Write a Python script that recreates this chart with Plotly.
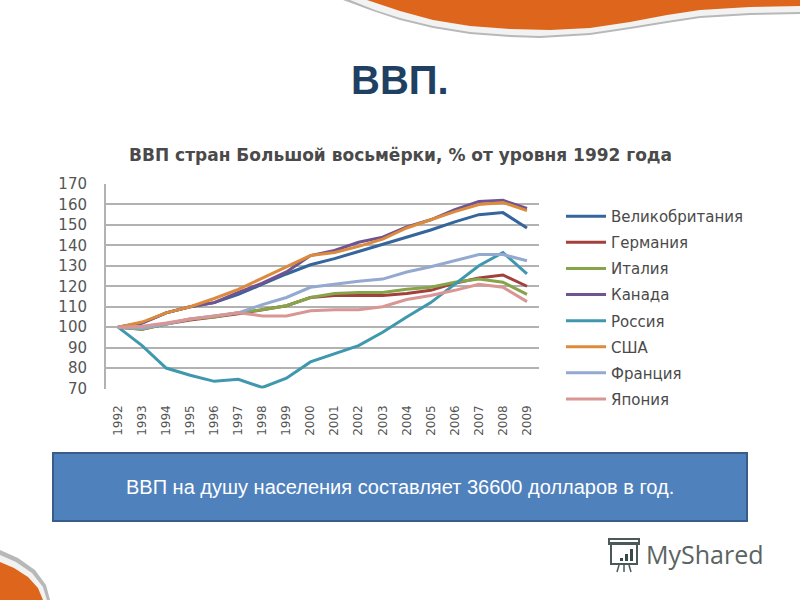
import plotly.graph_objects as go

W, H = 800, 600
years = [str(y) for y in range(1992, 2010)]
uk = [100,102,107,110,112,116,121,126,130.5,133.5,137,140.5,144,147.5,151.5,155,156,148.5]
germany = [100,99,101.5,103.5,105,106.5,108.5,110.5,114.5,115.5,115.5,115.5,116.5,118,121.5,124,125.5,120]
italy = [100,99,101.5,104,105,107,108.5,110.5,114.5,116.5,117,117,118.5,119.5,122,123.5,122,116]
canada = [100,102,107,110,112,117,121.5,127,135,137.5,141.5,144,149,152.5,157.5,161.5,162,158]
russia = [100,91,80,76.5,73.5,74.5,70.5,75,83,87,91,97.5,105,112,121,130,136.5,126]
usa = [100,102.5,107,110,114,118.5,124,129.5,135,136.5,139.5,143,148.5,152.5,156.5,160,161,157]
france = [100,99.5,101.5,104,105.5,107,111,114.5,119.5,121,122.5,123.5,127,129.5,132.5,135.5,135.5,132.5]
japan = [100,100.5,102,104,105.5,107,105.5,105.5,108,108.5,108.5,110,113.5,115.5,118,121,119.5,112.5]
series = [("Великобритания", uk, "#34659b"), ("Германия", germany, "#a2403c"),
          ("Италия", italy, "#86a44a"), ("Канада", canada, "#6f5392"),
          ("Россия", russia, "#3f98ad"), ("США", usa, "#dc8a3c"),
          ("Франция", france, "#93a9d0"), ("Япония", japan, "#d99694")]
y_ticks = list(range(70, 180, 10))

fig = go.Figure()
for name, vals, col in series:
    fig.add_trace(go.Scatter(x=years, y=vals, name=name, mode="lines", legendgroup=name,
                             line=dict(color=col, width=3)))

def px(x): return x / W
def py(y): return 1 - y / H

def path(pts):
    return "M" + " L".join(f"{px(x):.4f},{py(y):.4f}" for x, y in pts) + " Z"

def deco(pts, color):
    return dict(type="path", xref="paper", yref="paper", path=path(pts), fillcolor=color,
                line=dict(width=0), layer="below")

def rect(x0, y0, x1, y1, fill="rgba(0,0,0,0)", line=None):
    return dict(type="rect", xref="paper", yref="paper", x0=px(x0), x1=px(x1), y0=py(y1), y1=py(y0),
                fillcolor=fill, line=line or dict(width=0))

def seg(x0, y0, x1, y1):
    return dict(type="line", xref="paper", yref="paper", x0=px(x0), x1=px(x1), y0=py(y0), y1=py(y1),
                line=dict(color="#4a5a58", width=1.5))

top_orange = [(367,0),(400,11),(433,20),(470,26),(510,29),(550,30),(590,28),(630,22),(667,15),(700,10),(750,7),(800,6),(800,0)]
top_white = [(350,0),(375,10),(400,18),(433,26),(470,32),(510,35),(540,36),(590,33),(630,27),(667,21),(700,16),(750,13),(800,12),(800,0)]
top_band = [(343,0),(370,10),(400,20),(433,28),(470,34),(510,37),(540,38),(590,35),(630,29),(667,23),(700,18),(750,15),(800,14),(800,0)]
bl_orange = [(0,562),(14,568),(28,577),(38,588),(43,600),(0,600)]
bl_white = [(0,555),(16,562),(32,573),(43,587),(47,600),(0,600)]
bl_band = [(0,550),(18,558),(35,570),(46,585),(50,600),(0,600)]
line_col = dict(color="#4a5a58", width=2)
shapes = [
    deco(top_band, "#b8b8b8"), deco(top_white, "#f2f2f2"), deco(top_orange, "#dd661c"),
    deco(bl_band, "#b8b8b8"), deco(bl_white, "#f2f2f2"), deco(bl_orange, "#dd661c"),
    rect(53, 453, 747, 521, "#4f81bd", dict(color="#385d8a", width=2)),
    rect(611, 543, 637, 564, line=line_col),
    rect(609, 539, 639, 544, line=line_col),
    rect(630, 549, 633, 561, "#3a4a48"),
    rect(625, 554, 628, 561, "#3a4a48"),
    rect(620, 558, 623, 561, "#3a4a48"),
    seg(619, 565, 617, 572), seg(624, 565, 624, 572), seg(629, 565, 631, 572),
]

def note(text, x, y, family, size, color):
    return dict(text=text, x=px(x), y=py(y), xref="paper", yref="paper", showarrow=False,
                xanchor="center", yanchor="middle", font=dict(family=family, size=size, color=color))

annotations = [
    note("<b>ВВП.</b>", 400, 80, "Liberation Sans", 40, "#1f3f63"),
    note("<b>ВВП стран Большой восьмёрки, % от уровня 1992 года</b>", 400, 155, "DejaVu Sans", 17, "#4a4a4a"),
    note("ВВП на душу населения составляет 36600 долларов в год.", 400, 487, "Liberation Sans", 20, "#ffffff"),
    note("MyShared", 705, 554, "Open Sans", 25, "#5a6462"),
]

fig.update_layout(
    width=W, height=H, autosize=False, margin=dict(l=0, r=0, t=0, b=0, autoexpand=False),
    paper_bgcolor="#ffffff", plot_bgcolor="rgba(0,0,0,0)",
    shapes=shapes, annotations=annotations,
    xaxis=dict(domain=[px(106), px(539)], type="category", categoryorder="array", categoryarray=years,
               range=[-0.5, 17.5], showgrid=False, showline=False, ticks="outside", ticklen=11,
               tickcolor="rgba(0,0,0,0)", tickangle=-90,
               tickfont=dict(family="DejaVu Sans", size=12, color="#555555"), anchor="y"),
    yaxis=dict(domain=[py(388.5), py(184)], range=[70, 170], tickvals=y_ticks,
               gridcolor="#b2b2b2", gridwidth=2, zeroline=False, showline=True, linecolor="#b2b2b2", linewidth=2,
               ticks="outside", ticklen=14, tickcolor="rgba(0,0,0,0)",
               tickfont=dict(family="DejaVu Sans", size=15, color="#555555"), anchor="x"),
    legend=dict(x=px(561), y=py(200), xanchor="left", yanchor="top", bgcolor="rgba(0,0,0,0)",
                font=dict(family="DejaVu Sans", size=15, color="#4a4a4a"), tracegroupgap=3.6,
                itemwidth=40, traceorder="grouped"),
    showlegend=True,
)
fig.write_html("out.html", config=dict(displayModeBar=False),
               post_script="document.body.style.margin='0';document.documentElement.style.overflow='hidden';")
